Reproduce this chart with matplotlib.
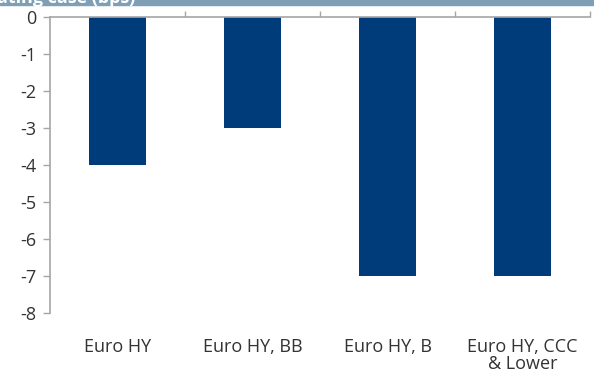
import matplotlib.pyplot as plt
from matplotlib.patches import Rectangle

# Spread change by rating bucket
categories = ['Euro HY', 'Euro HY, BB', 'Euro HY, B', 'Euro HY, CCC\n& Lower']
values = [-4, -3, -7, -7]
yticks = [0, -1, -2, -3, -4, -5, -6, -7, -8]

bar_color = '#003b7a'
axis_color = '#a6a6a6'
text_color = '#333333'

plt.rcParams['font.family'] = ['Open Sans', 'DejaVu Sans']

fig = plt.figure(figsize=(5.94, 3.74), dpi=100)
ax = fig.add_axes([50 / 594, 1 - 313 / 374, 540 / 594, 296 / 374])

x = list(range(len(categories)))
ax.bar(x, values, width=0.42, color=bar_color, zorder=2)

ax.set_xlim(-0.5, len(categories) - 0.5)
ax.set_ylim(-8, 0)
ax.set_yticks(yticks)
ax.set_yticklabels([str(v) for v in yticks])

# category labels below the plot, separators on the zero line
ax.set_xticks(x)
ax.set_xticklabels(categories, linespacing=0.95)
ax.set_xticks([i + 0.5 for i in x], minor=True)
ax.tick_params(axis='x', which='major', length=0, pad=18, labelsize=13,
               colors=text_color)
ax.tick_params(axis='x', which='minor', top=True, bottom=False, direction='out',
               length=4, width=1, color=axis_color)
ax.tick_params(axis='y', length=5, width=1, color=axis_color, labelsize=13,
               labelcolor=text_color, pad=5)

for side in ['right', 'bottom']:
    ax.spines[side].set_visible(False)
for side in ['left', 'top']:
    ax.spines[side].set_color(axis_color)
    ax.spines[side].set_linewidth(1.2)

# header band along the top edge
fig.patches.append(Rectangle((0, 1 - 5 / 374), 1, 5 / 374, transform=fig.transFigure,
                             color='#7f9fb6', zorder=0))
fig.text(-0.005, 1 - 7 / 374, 'ating case (bps)', color='white', fontsize=13,
         fontweight='bold', va='bottom', ha='left')

fig.savefig('out.png', dpi=100)
